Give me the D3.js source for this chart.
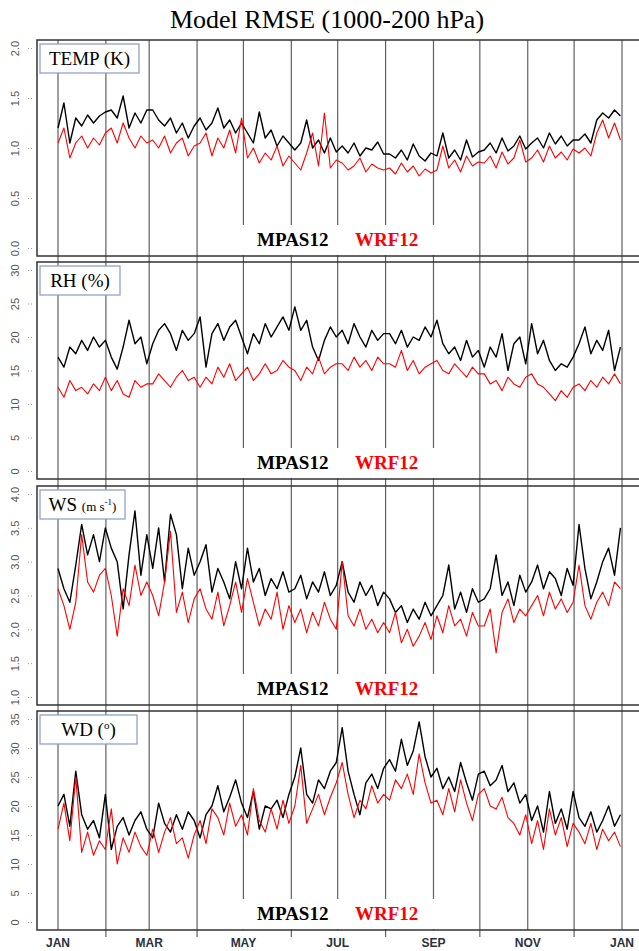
<!DOCTYPE html>
<html>
<head>
<meta charset="utf-8">
<script src="https://cdn.jsdelivr.net/npm/d3@7"></script>
<style>
  body { margin: 0; background: #fff; }
  svg { display: block; }
</style>
</head>
<body>
<script>
// values, 8 samples per month (Jan..Dec)
var tempMpas = [1.20,1.45,1.05,1.30,1.22,1.33,1.25,1.32, 1.36,1.38,1.30,1.52,1.20,1.35,1.25,1.38,
  1.38,1.28,1.22,1.30,1.15,1.25,1.10,1.22, 1.30,1.18,1.25,1.40,1.20,1.28,1.15,1.25,
  1.15,1.05,1.36,1.10,1.18,1.02,1.12,1.05, 0.98,1.05,1.28,1.00,1.08,0.95,1.10,0.96,
  1.02,0.95,1.05,0.92,1.00,0.98,1.06,0.94, 0.94,0.90,0.98,0.88,1.04,0.92,0.87,0.95,
  0.92,1.15,0.90,0.98,0.88,1.08,0.91,0.96, 0.98,1.05,0.95,1.10,0.97,1.02,1.12,0.99,
  1.05,1.10,1.00,1.15,1.04,1.12,1.02,1.08, 1.08,1.14,1.05,1.28,1.35,1.30,1.38,1.32];
var tempWrf = [1.05,1.20,0.90,1.05,1.12,1.00,1.10,1.03, 1.15,1.20,1.05,1.25,1.10,1.00,1.12,1.05,
  1.08,1.00,1.12,0.95,1.05,1.10,0.92,1.02, 1.05,1.15,0.92,1.10,1.00,1.18,0.95,1.30,
  0.90,1.00,0.85,0.95,0.88,1.02,0.82,0.92, 0.85,0.78,0.95,1.15,0.82,1.35,0.80,0.88,
  0.85,0.78,0.82,0.90,0.76,0.84,0.80,0.78, 0.80,0.74,0.85,0.76,0.82,0.72,0.79,0.75,
  0.78,1.02,0.80,0.88,0.76,0.92,0.82,0.86, 0.85,0.92,0.80,0.96,0.84,0.90,1.08,0.86,
  0.90,0.98,0.86,1.02,0.90,0.96,0.88,0.99, 0.95,1.00,0.92,1.15,1.28,1.10,1.25,1.08];

var rhMpas = [17.0,15.5,18.5,17.5,19.5,18.0,20.0,18.5, 19.5,17.0,15.2,18.5,22.5,19.0,20.0,16.0,
  19.0,21.0,22.0,20.5,18.0,21.0,19.5,20.5, 23.0,15.5,20.5,22.0,19.5,21.5,22.5,20.0,
  17.5,20.5,19.0,22.0,20.0,21.5,23.0,21.0, 24.5,21.0,22.5,18.5,16.5,19.5,21.5,20.0,
  21.0,19.0,22.0,20.0,18.5,21.0,19.5,20.5, 20.5,19.0,21.0,18.5,20.0,19.5,21.5,20.0,
  22.5,19.0,17.5,18.5,16.5,19.5,17.0,18.0, 15.5,18.5,17.0,20.5,15.0,19.0,20.0,16.0,
  22.0,17.5,19.5,16.5,15.0,16.0,15.5,17.0, 19.0,21.5,17.5,19.5,18.0,21.0,15.0,18.5];
var rhWrf = [12.5,11.0,13.5,12.0,12.5,11.5,13.0,12.0, 14.0,12.0,13.5,11.5,11.0,13.5,12.5,13.0,
  13.0,14.5,13.5,12.5,14.0,15.0,13.5,14.0, 12.5,14.0,13.0,15.5,14.0,16.0,13.5,14.5,
  15.5,13.5,14.5,16.0,14.5,15.0,16.5,15.5, 15.0,13.5,15.5,14.5,17.0,14.5,15.5,16.0,
  16.0,15.0,17.0,15.5,16.5,15.0,17.0,16.0, 16.0,15.5,18.0,15.0,16.5,14.5,15.5,16.0,
  16.5,15.0,14.5,16.0,15.0,14.0,15.5,14.5, 14.5,13.0,13.5,12.0,14.0,13.0,12.5,14.0,
  14.5,13.0,12.5,11.5,10.5,12.0,11.0,12.5, 13.0,12.0,13.5,12.5,14.0,13.0,14.5,13.0];

var wsMpas = [2.90,2.60,2.40,2.95,3.55,3.10,3.40,3.00, 3.50,3.20,3.00,2.30,3.10,3.75,2.80,3.40,
  2.90,3.50,2.70,3.70,3.40,2.60,3.20,2.80, 3.00,3.25,2.55,2.90,2.70,2.45,3.00,2.60,
  3.20,2.70,2.90,2.50,2.75,2.60,2.85,2.55, 2.60,2.80,2.45,2.70,2.55,2.85,2.50,2.65,
  3.00,2.55,2.40,2.70,2.50,2.65,2.35,2.55, 2.45,2.25,2.35,2.10,2.30,2.15,2.40,2.20,
  2.35,2.50,2.95,2.30,2.55,2.25,2.60,2.40, 2.45,2.60,3.10,2.50,2.70,2.35,2.80,2.55,
  2.70,2.95,2.60,2.85,2.75,2.50,2.90,2.65, 3.55,2.90,2.45,2.70,3.00,3.20,2.80,3.50];
var wsWrf = [2.60,2.35,2.00,2.40,3.40,2.70,2.55,2.80, 2.90,2.50,1.90,2.60,2.35,2.95,2.50,2.70,
  2.50,2.20,2.70,3.45,2.25,2.55,2.10,2.45, 2.60,2.30,2.15,2.55,2.05,2.35,2.70,2.25,
  2.75,2.40,2.05,2.30,2.15,2.55,2.00,2.35, 2.10,2.30,1.95,2.25,2.05,2.40,2.15,2.00,
  3.00,2.20,2.05,2.30,2.00,2.15,1.95,2.10, 1.95,2.25,1.80,2.00,1.75,1.90,2.10,1.85,
  2.20,1.95,2.35,2.05,2.15,1.90,2.25,2.05, 2.05,2.30,1.65,2.25,2.45,2.10,2.30,2.20,
  2.35,2.50,2.20,2.55,2.30,2.45,2.25,2.40, 2.95,2.35,2.15,2.40,2.55,2.35,2.70,2.60];

var wdMpas = [20.0,22.0,16.5,26.0,18.5,16.0,17.5,14.5, 22.0,12.5,16.5,18.0,15.0,17.5,19.0,16.0,
  14.5,20.5,17.0,15.5,18.5,16.0,19.0,17.5, 14.5,18.5,20.0,23.5,19.0,21.5,24.5,20.5,
  18.0,22.5,16.0,20.0,19.5,21.0,18.0,22.0, 25.0,30.0,22.0,20.5,24.5,23.0,26.0,27.5,
  33.5,26.0,22.0,18.5,24.0,25.5,23.0,26.5, 28.0,26.0,31.5,27.0,29.5,34.5,28.5,25.0,
  26.5,23.0,25.0,22.5,27.5,24.0,21.0,25.5, 26.0,23.5,24.5,27.0,22.5,24.0,20.5,22.0,
  17.5,20.0,15.5,22.5,17.0,19.5,16.0,22.5, 18.0,16.5,19.0,15.5,17.5,20.0,16.5,18.5];
var wdWrf = [16.0,20.5,14.0,25.0,12.0,15.5,11.5,14.0, 12.5,19.5,10.0,14.5,12.0,15.5,13.0,11.5,
  16.0,12.0,15.5,18.0,13.5,14.5,11.0,15.0, 17.5,13.5,19.5,18.0,15.0,20.5,16.5,18.5,
  15.0,23.0,17.5,15.5,19.5,16.0,21.0,17.0, 20.0,27.0,17.0,19.5,22.0,18.5,21.5,24.0,
  27.5,22.0,18.0,21.0,19.5,23.5,20.5,22.0, 21.0,24.5,23.0,25.5,22.0,29.0,24.0,20.5,
  21.0,18.5,23.0,19.0,24.5,20.5,17.5,22.0, 23.0,20.0,19.5,21.5,18.0,17.0,15.0,18.5,
  13.5,17.5,12.5,19.5,15.0,18.0,13.0,17.0, 15.5,13.5,17.0,12.5,16.0,14.0,15.5,13.0];

var tempTicks = [0, 0.5, 1, 1.5, 2];
var rhTicks = [0, 5, 10, 15, 20, 25, 30];
var wsTicks = [1, 1.5, 2, 2.5, 3, 3.5, 4];
var wdTicks = [0, 5, 10, 15, 20, 25, 30, 35];

var seriesNames = ["MPAS12", "WRF12"];
var seriesColors = ["#000000", "#ff0000"];

var width = 639, height = 951;
var left = 37;

var panels = [
  {label: "TEMP", unit: "(K)", ticks: tempTicks, fmt: ".1f", mpas: tempMpas, wrf: tempWrf, top: 40, bottom: 256, boxW: 99},
  {label: "RH", unit: "(%)", ticks: rhTicks, fmt: "d", mpas: rhMpas, wrf: rhWrf, top: 262, bottom: 479, boxW: 80},
  {label: "WS", unit: "ws", ticks: wsTicks, fmt: ".1f", mpas: wsMpas, wrf: wsWrf, top: 486, bottom: 705, boxW: 85},
  {label: "WD", unit: "wd", ticks: wdTicks, fmt: "d", mpas: wdMpas, wrf: wdWrf, top: 711, bottom: 930, boxW: 97}
];

var svg = d3.select("body").append("svg")
    .attr("width", width)
    .attr("height", height);

var t0 = new Date(2015, 0, 1), t1 = new Date(2016, 0, 1);
var x = d3.scaleTime().domain([t0, t1]).range([58, 622]);
var monthStarts = d3.timeMonth.range(t0, d3.timeDay.offset(t1, 1));

var nPts = tempMpas.length;
var step = (t1 - t0 - 864e5) / (nPts - 1);
function dateAt(i) { return new Date(t0.getTime() + i * step); }

// title
svg.append("text")
    .attr("x", 327)
    .attr("y", 28)
    .attr("text-anchor", "middle")
    .style("font-family", "'Liberation Serif', 'Times New Roman', serif")
    .style("font-size", "26px")
    .text("Model RMSE (1000-200 hPa)");

// month lines run down through every panel
svg.append("g").selectAll("line")
    .data(monthStarts)
    .enter().append("line")
    .attr("x1", function(d) { return x(d); })
    .attr("x2", function(d) { return x(d); })
    .attr("y1", 40)
    .attr("y2", function(d) { return d.getMonth() % 2 === 0 ? 930 : 937; })
    .attr("stroke", "#606060")
    .attr("stroke-width", 1.2);

svg.append("g").selectAll("text")
    .data(monthStarts.filter(function(d) { return d.getMonth() % 2 === 0; }))
    .enter().append("text")
    .attr("x", function(d) { return x(d); })
    .attr("y", 947)
    .attr("text-anchor", "middle")
    .style("font-family", "'Liberation Sans', Arial, sans-serif")
    .style("font-weight", "bold")
    .style("font-size", "12px")
    .style("fill", "#2a3140")
    .text(function(d) { return d3.timeFormat("%b")(d).toUpperCase(); });

panels.forEach(function(p) {
  var y = d3.scaleLinear()
      .domain(d3.extent(p.ticks))
      .range([p.bottom - 8, p.top + 8]);

  var g = svg.append("g");

  var line = d3.line()
      .x(function(d, i) { return x(dateAt(i)); })
      .y(function(d) { return y(d); });

  [p.mpas, p.wrf].forEach(function(vals, k) {
    g.append("path")
        .datum(vals)
        .attr("fill", "none")
        .attr("stroke", seriesColors[k])
        .attr("stroke-width", k === 0 ? 1.4 : 1.1)
        .attr("stroke-linejoin", "round")
        .attr("d", line);
  });

  // y axis, rotated labels
  var ax = g.append("g")
      .attr("transform", "translate(" + left + ",0)")
      .call(d3.axisLeft(y).tickValues(p.ticks).tickSize(7).tickPadding(0).tickFormat(d3.format(p.fmt)));
  ax.select(".domain").remove();
  ax.selectAll(".tick line")
      .attr("stroke", "#999")
      .attr("stroke-dasharray", "1,2")
      .attr("x2", -3).attr("x1", -9);
  ax.selectAll(".tick text")
      .attr("x", 0)
      .attr("dy", "0.35em")
      .attr("text-anchor", "middle")
      .attr("transform", "translate(-22,0) rotate(-90)")
      .style("font-family", "'Liberation Sans', Arial, sans-serif")
      .style("font-size", "11px")
      .style("fill", "#555");

  // frame
  g.append("rect")
      .attr("x", left)
      .attr("y", p.top)
      .attr("width", 660 - left)
      .attr("height", p.bottom - p.top)
      .attr("fill", "none")
      .attr("stroke", "#333")
      .attr("stroke-width", 1.5);

  // label box
  var bx = 40, by = p.top + 4;
  g.append("rect")
      .attr("x", bx).attr("y", by)
      .attr("width", p.boxW).attr("height", 29)
      .attr("fill", "#fff")
      .attr("stroke", "#8fa3c8")
      .attr("stroke-width", 1.3);
  var lt = g.append("text")
      .attr("x", bx + p.boxW / 2)
      .attr("y", by + 21)
      .attr("text-anchor", "middle")
      .style("font-family", "'Liberation Serif', 'Times New Roman', serif")
      .style("font-size", "19px");
  if (p.unit === "ws") {
    lt.append("tspan").text("WS ");
    lt.append("tspan").style("font-size", "13px").text("(m s");
    lt.append("tspan").style("font-size", "9px").attr("dy", -6).text("-1");
    lt.append("tspan").style("font-size", "13px").attr("dy", 6).text(")");
  } else if (p.unit === "wd") {
    lt.append("tspan").text("WD (");
    lt.append("tspan").style("font-size", "11px").attr("dy", -7).text("o");
    lt.append("tspan").attr("dy", 7).text(")");
  } else {
    lt.text(p.label + " " + p.unit);
  }

  // legend, with white patch that hides the month lines
  g.append("rect")
      .attr("x", 236).attr("y", p.bottom - 31)
      .attr("width", 204).attr("height", 30)
      .attr("fill", "#fff");
  var leg = g.append("text")
      .attr("y", p.bottom - 10)
      .style("font-family", "'Liberation Serif', 'Times New Roman', serif")
      .style("font-weight", "bold")
      .style("font-size", "19px");
  leg.append("tspan").attr("x", 257).attr("fill", seriesColors[0]).text(seriesNames[0]);
  leg.append("tspan").attr("x", 355).attr("fill", seriesColors[1]).text(seriesNames[1]);
});
</script>
</body>
</html>
